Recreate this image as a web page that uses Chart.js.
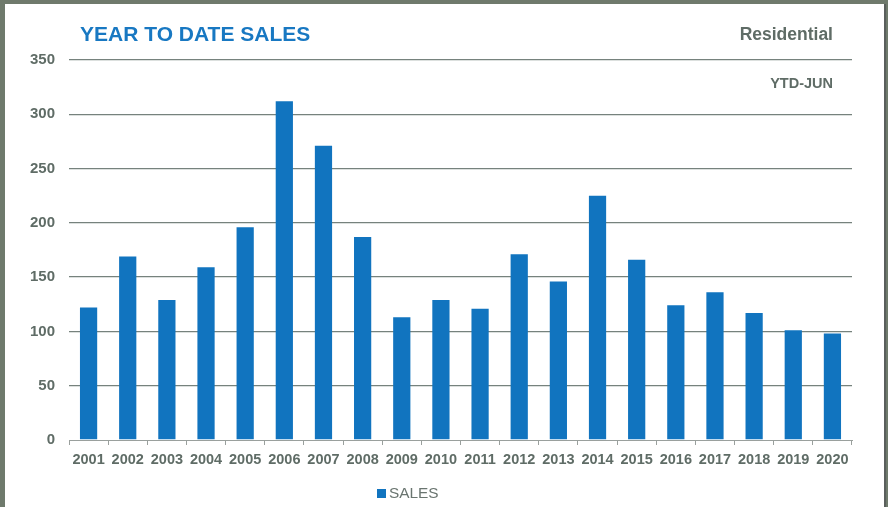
<!DOCTYPE html>
<html>
<head>
<meta charset="utf-8">
<script src="https://cdn.jsdelivr.net/npm/chart.js@4"></script>
<style>
  html, body { margin:0; padding:0; width:888px; height:507px; overflow:hidden; }
  body { background:#6f7a6c; position:relative; font-family:"Liberation Sans", Arial, sans-serif; }
  #panel { position:absolute; left:5px; top:4px; width:879px; height:503px; background:#fff; border-right:2px solid #5a5f5c; }
  #wrap { position:absolute; left:0; top:0; width:888px; height:507px; }
  .t { position:absolute; font-weight:bold; white-space:nowrap; }
  #title { left:80px; top:23px; font-size:21px; line-height:21px; color:#1878c2; }
  #res { right:55px; top:26px; font-size:17.5px; line-height:17.5px; color:#5f6c66; }
  #ytd { right:55px; top:76px; font-size:14.5px; line-height:14.5px; color:#5f6c66; }
  #legend { position:absolute; left:377px; top:485px; font-size:15.4px; line-height:15.4px; color:#6a7570; white-space:nowrap; }
  #legend .box { display:inline-block; width:9px; height:9px; background:#1174bf; margin-right:3px; vertical-align:0px; }
</style>
</head>
<body>
<div id="panel"></div>
<div id="wrap"><canvas id="c" width="888" height="507"></canvas></div>
<div class="t" id="title">YEAR TO DATE SALES</div>
<div class="t" id="res">Residential</div>
<div class="t" id="ytd">YTD-JUN</div>
<div id="legend"><span class="box"></span><span id="legtext"></span></div>
<script>
const years = ["2001","2002","2003","2004","2005","2006","2007","2008","2009","2010","2011","2012","2013","2014","2015","2016","2017","2018","2019","2020"];
const sales = [122,169,129,159,196,312,271,187,113,129,121,171,146,225,166,124,136,117,101,98];
const yTicks = [0,50,100,150,200,250,300,350];
const seriesName = 'SALES';

document.getElementById('legtext').textContent = seriesName;

const gray = '#5f6c66';
new Chart(document.getElementById('c'), {
  type: 'bar',
  data: {
    labels: years,
    datasets: [{
      label: seriesName,
      data: sales,
      backgroundColor: '#1174bf',
      borderWidth: 0,
      barPercentage: 0.44,
      categoryPercentage: 1.0
    }]
  },
  options: {
    responsive: false,
    animation: false,
    layout: { padding: { left: 0, right: 36, top: 60, bottom: 34 } },
    plugins: {
      legend: { display: false },
      tooltip: { enabled: false }
    },
    scales: {
      x: {
        offset: true,
        grid: { offset: true, drawOnChartArea: false, drawTicks: true, tickLength: 5, color: '#9aa09d' },
        border: { display: true, color: '#9aa09d', width: 1 },
        ticks: { color: gray, padding: 6, font: { family: '"Liberation Sans", Arial, sans-serif', size: 14.5, weight: 'bold' } },
        afterFit: s => { s.height = 33; }
      },
      y: {
        min: 0, max: 350,
        afterBuildTicks: s => { s.ticks = yTicks.map(v => ({ value: v })); },
        grid: {
          drawTicks: false,
          color: ctx => ctx.tick && ctx.tick.value === 0 ? 'rgba(0,0,0,0)' : '#76827d',
          lineWidth: 1.3
        },
        border: { display: false },
        ticks: { color: gray, padding: 14, font: { family: '"Liberation Sans", Arial, sans-serif', size: 15, weight: 'bold' } },
        afterFit: s => { s.width = 69; }
      }
    }
  }
});
</script>
</body>
</html>
